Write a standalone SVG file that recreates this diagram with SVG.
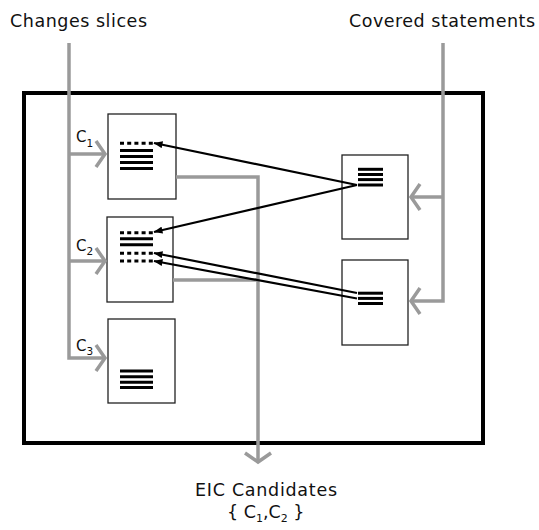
<svg xmlns="http://www.w3.org/2000/svg" width="539" height="530" viewBox="0 0 539 530">
  <style>
    .label { font-family: "DejaVu Sans", "Liberation Sans", sans-serif; fill: #111; }
    .big { font-size: 17.5px; }
    .tag { font-size: 15px; }
    .box { fill: #fff; stroke: #222; stroke-width: 1.3; }
    .frame { fill: none; stroke: #000; stroke-width: 4; }
    .flow { fill: none; stroke: #9a9a9a; stroke-width: 3.5; }
    .link { fill: none; stroke: #000; stroke-width: 2.2; }
    .stmt { stroke: #000; stroke-width: 3; }
    .dots { stroke: #000; stroke-width: 3; stroke-dasharray: 4 3.2; }
  </style>
  <defs>
    <marker id="chev" viewBox="-13 -15 16 30" refX="0" refY="0" markerWidth="16" markerHeight="30" markerUnits="userSpaceOnUse" orient="auto">
      <path d="M-9,-13 L0,0 L-9,13" fill="none" stroke="#9a9a9a" stroke-width="3.5"/>
    </marker>
    <marker id="tip" viewBox="0 0 9 7" refX="8.5" refY="3.5" markerWidth="9" markerHeight="7" markerUnits="userSpaceOnUse" orient="auto">
      <path d="M0,0 L9,3.5 L0,7 z" fill="#000"/>
    </marker>
  </defs>

  <!-- headings -->
  <g id="changes-slices">
    <text class="label big" x="10" y="27" textLength="137">Changes slices</text>
  </g>
  <g id="covered-statements">
    <text class="label big" x="349" y="27" textLength="186">Covered statements</text>
  </g>

  <!-- enclosing frame -->
  <g id="frame">
    <rect class="frame" x="24" y="93" width="459" height="350"/>
  </g>

  <!-- change slice C1 -->
  <g id="slice-c1">
    <rect class="box" x="108" y="114" width="68" height="85"/>
    <line class="dots" x1="120" y1="143.3" x2="153" y2="143.3"/>
    <line class="stmt" x1="120" y1="150.5" x2="153" y2="150.5"/>
    <line class="stmt" x1="120" y1="156.5" x2="153" y2="156.5"/>
    <line class="stmt" x1="120" y1="162.5" x2="153" y2="162.5"/>
    <line class="stmt" x1="120" y1="168.5" x2="153" y2="168.5"/>
  </g>

  <!-- change slice C2 -->
  <g id="slice-c2">
    <rect class="box" x="107" y="217" width="66" height="85"/>
    <line class="dots" x1="120" y1="232.8" x2="153" y2="232.8"/>
    <line class="stmt" x1="120" y1="238.8" x2="153" y2="238.8"/>
    <line class="stmt" x1="120" y1="244.8" x2="153" y2="244.8"/>
    <line class="dots" x1="120" y1="253.3" x2="153" y2="253.3"/>
    <line class="dots" x1="120" y1="261" x2="153" y2="261"/>
  </g>

  <!-- change slice C3 -->
  <g id="slice-c3">
    <rect class="box" x="108" y="319" width="67" height="84"/>
    <line class="stmt" x1="120" y1="371" x2="153" y2="371"/>
    <line class="stmt" x1="120" y1="376.7" x2="153" y2="376.7"/>
    <line class="stmt" x1="120" y1="382.2" x2="153" y2="382.2"/>
    <line class="stmt" x1="120" y1="387.5" x2="153" y2="387.5"/>
  </g>

  <!-- covered statement sets -->
  <g id="coverage-a">
    <rect class="box" x="342" y="155" width="66" height="84"/>
    <line class="stmt" x1="358" y1="169.3" x2="383" y2="169.3"/>
    <line class="stmt" x1="358" y1="174.5" x2="383" y2="174.5"/>
    <line class="stmt" x1="358" y1="179.6" x2="383" y2="179.6"/>
    <line class="stmt" x1="358" y1="185" x2="383" y2="185"/>
  </g>
  <g id="coverage-b">
    <rect class="box" x="342" y="260" width="66" height="85"/>
    <line class="stmt" x1="358" y1="293.2" x2="383" y2="293.2"/>
    <line class="stmt" x1="358" y1="298.4" x2="383" y2="298.4"/>
    <line class="stmt" x1="358" y1="303.5" x2="383" y2="303.5"/>
  </g>

  <!-- slice tags -->
  <g id="tag-c1">
    <text class="label tag" x="76" y="142">C<tspan dy="4.5" font-size="10.5">1</tspan></text>
  </g>
  <g id="tag-c2">
    <text class="label tag" x="76" y="251">C<tspan dy="4" font-size="10.5">2</tspan></text>
  </g>
  <g id="tag-c3">
    <text class="label tag" x="76" y="351">C<tspan dy="4" font-size="10.5">3</tspan></text>
  </g>

  <!-- result -->
  <g id="eic-candidates">
    <text class="label big" x="195" y="496" textLength="142">EIC Candidates</text>
    <text class="label big" x="227" y="518">{ C<tspan dy="4" font-size="11">1</tspan><tspan dy="-4">,C</tspan><tspan dy="4" font-size="11">2</tspan><tspan dy="-4"> }</tspan></text>
  </g>

  <g id="connectors">
    <!-- slices feed -->
    <path class="flow" d="M69,43 V358 H105" marker-end="url(#chev)"/>
    <path class="flow" d="M69,154 H105" marker-end="url(#chev)"/>
    <path class="flow" d="M69,261 H105" marker-end="url(#chev)"/>
    <!-- coverage feed -->
    <path class="flow" d="M443,43 V301 H411" marker-end="url(#chev)"/>
    <path class="flow" d="M443,197 H411" marker-end="url(#chev)"/>
    <!-- candidates out -->
    <path class="flow" d="M176,177 H258 V462" marker-end="url(#chev)"/>
    <path class="flow" d="M173,280 H258"/>
    <!-- coverage links -->
    <line class="link" x1="357" y1="185" x2="154" y2="143" marker-end="url(#tip)"/>
    <line class="link" x1="357" y1="185" x2="154" y2="232" marker-end="url(#tip)"/>
    <line class="link" x1="357" y1="293" x2="154" y2="253" marker-end="url(#tip)"/>
    <line class="link" x1="357" y1="298.5" x2="154" y2="261" marker-end="url(#tip)"/>
  </g>
</svg>
